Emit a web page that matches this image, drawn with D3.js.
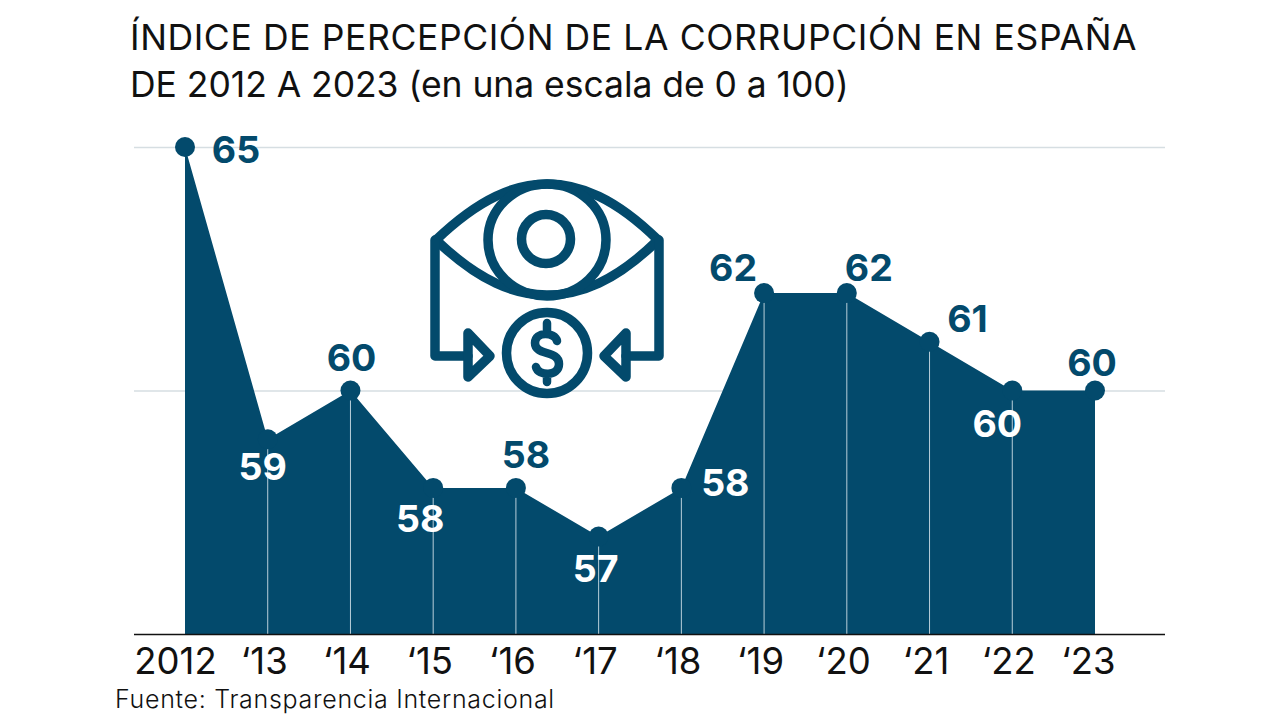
<!DOCTYPE html>
<html><head><meta charset="utf-8">
<script src="https://cdnjs.cloudflare.com/ajax/libs/d3/7.8.5/d3.min.js"></script>
<style>
html,body{margin:0;padding:0;background:#fff}
svg{display:block}
text{font-family:Inter,"Liberation Sans",sans-serif}
</style></head><body>
<svg id="c" width="1280" height="720"></svg>
<script>
const years=[2012,2013,2014,2015,2016,2017,2018,2019,2020,2021,2022,2023];
const values=[65,59,60,58,58,57,58,62,62,61,60,60];
const tickLabels=["2012","‘13","‘14","‘15","‘16","‘17","‘18","‘19","‘20","‘21","‘22","‘23"];
const gridValues=[60,65];
const titleLines=["ÍNDICE DE PERCEPCIÓN DE LA CORRUPCIÓN EN ESPAÑA","DE 2012 A 2023 (en una escala de 0 a 100)"];
const source="Fuente: Transparencia Internacional";
const labelOffsets=[[51,2],[-5,27],[1,-33],[-13,31],[10,-33],[-3,32],[44,-5],[-31,-26],[22,-26],[38,-23],[-15,33],[-3,-28]];
const labelInside=[false,true,false,true,false,true,true,false,false,false,true,false];
const titleSpacing=[0.61,-0.05];

const navy="#034a6c", grid="#d6dee2", ink="#111";
const svg=d3.select("#c");
const x=d3.scaleLinear().domain([2012,2023]).range([185,1095]);
const y=d3.scaleLinear().domain([55,65]).range([634,147]);
const data=years.map((d,i)=>({year:d,value:values[i],i}));

svg.selectAll("text.title").data(titleLines).join("text").attr("class","title")
  .attr("x",130).attr("y",(d,i)=>50+i*47).attr("font-size",35.5).attr("fill",ink)
  .attr("letter-spacing",(d,i)=>titleSpacing[i]).text(d=>d);

svg.selectAll("line.grid").data(gridValues).join("line").attr("class","grid")
  .attr("x1",134).attr("x2",1165).attr("y1",d=>y(d)+0.5).attr("y2",d=>y(d)+0.5)
  .attr("stroke",grid).attr("stroke-width",1.6);

svg.append("path").datum(data).attr("fill",navy)
  .attr("d",d3.area().x(d=>x(d.year)).y0(y(55)).y1(d=>y(d.value)));

svg.selectAll("line.drop").data(data.slice(1,-1)).join("line").attr("class","drop")
  .attr("x1",d=>x(d.year)).attr("x2",d=>x(d.year)).attr("y1",d=>y(d.value)).attr("y2",y(55))
  .attr("stroke","#b9cfda").attr("stroke-width",1);

svg.selectAll("circle.pt").data(data).join("circle").attr("class","pt")
  .attr("cx",d=>x(d.year)).attr("cy",d=>y(d.value)).attr("r",10).attr("fill",navy);

svg.selectAll("text.val").data(data).join("text").attr("class","val")
  .attr("x",d=>x(d.year)+labelOffsets[d.i][0]).attr("y",d=>y(d.value)+labelOffsets[d.i][1])
  .attr("dy","0.36em").attr("text-anchor","middle")
  .attr("font-size",37.5).attr("font-weight",700)
  .attr("fill",d=>labelInside[d.i]?"#fff":navy).text(d=>d.value);

const axis=d3.axisBottom(x).tickValues(years).tickSize(0).tickPadding(10)
  .tickFormat((d,i)=>tickLabels[i]);
const ax=svg.append("g").attr("transform",`translate(0,${y(55)})`).call(axis);
ax.select(".domain").remove();
ax.append("line").attr("x1",134).attr("x2",1165).attr("y1",0.5).attr("y2",0.5).attr("stroke","#111").attr("stroke-width",1.3);
ax.selectAll(".tick text").attr("font-size",36.5).attr("fill",ink)
  .attr("font-family",'Inter,"Liberation Sans",sans-serif')
  .attr("y",null).attr("dy",null).attr("transform",null)
  .each(function(d,i){d3.select(this).attr("y",40).attr("x",i===0?-10:(i===11?-7:-4)).attr("dy",0);});

svg.append("text").attr("x",115).attr("y",708).attr("font-size",25).attr("font-weight",300)
  .attr("letter-spacing",0.7).attr("fill",ink).text(source);

// Eye and money icon
const icon=svg.append("g").attr("fill","none").attr("stroke",navy).attr("stroke-width",9.5)
  .attr("stroke-linejoin","round").attr("stroke-linecap","round");
icon.append("path").attr("d","M436 240C480 198 515 184 547 184C580 184 615 198 658 240C615 282 580 295 547 295C515 295 480 282 436 240Z");
icon.append("ellipse").attr("cx",547).attr("cy",240).attr("rx",59).attr("ry",56);
icon.append("circle").attr("cx",546).attr("cy",239).attr("r",24.5);
icon.append("circle").attr("cx",547).attr("cy",353).attr("r",40.5);
icon.append("path").attr("d","M435 240V356H468M659 240V356H626");
icon.append("path").attr("d","M468 333L490 356L468 377ZM626 333L604 356L626 377Z");
icon.append("path").attr("stroke-width",8.5).attr("d","M557 341C555 332 535 331 535 343C535 356 559 350 559 364C559 377 538 376 536 367M547 323V330M547 375V382");
</script>
</body></html>
